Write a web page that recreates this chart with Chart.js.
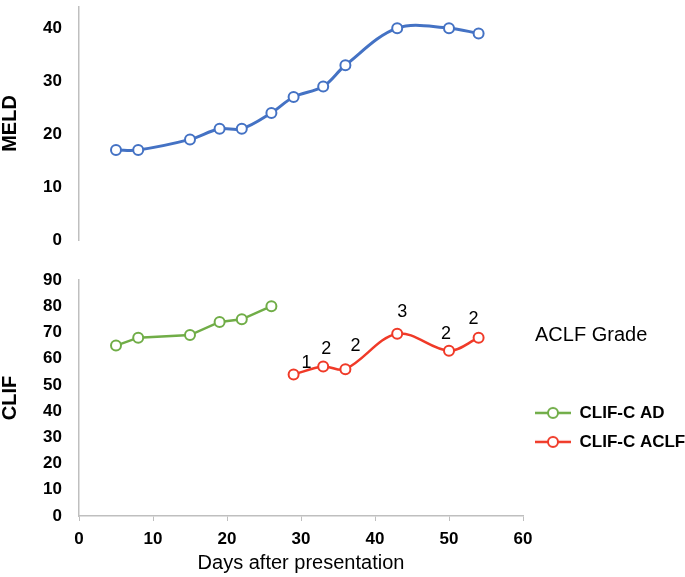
<!DOCTYPE html>
<html>
<head>
<title>MELD and CLIF</title>
<script src="https://cdn.jsdelivr.net/npm/chart.js"></script>
<style>
  body { margin: 0; background: #fff; }
  #wrap { position: relative; width: 685px; height: 577px; }
  #meldBox { position: absolute; left: 0; top: 0; width: 685px; height: 250px; }
  #clifBox { position: absolute; left: 0; top: 270px; width: 685px; height: 307px; }
</style>
</head>
<body>
<div id="wrap">
  <div id="meldBox"><canvas id="meldChart"></canvas></div>
  <div id="clifBox"><canvas id="clifChart"></canvas></div>
</div>
<script>
// days after presentation
var meldDays = [5, 8, 15, 19, 22, 26, 29, 33, 36, 43, 50, 54];
var meldValues = [17, 17, 19, 21, 21, 24, 27, 29, 33, 40, 40, 39];

var adDays = [5, 8, 15, 19, 22, 26];
var adValues = [65, 68, 69, 74, 75, 80];

var aclfDays = [29, 33, 36, 43, 50, 54];
var aclfValues = [54, 57, 56, 69.5, 63, 68];
var aclfGrades = ['1', '2', '2', '3', '2', '2'];

var xTicks = [0, 10, 20, 30, 40, 50, 60];

// label nudges (px) for the grade numbers, as placed in the original
var gradeNudge = [[13, -11], [3, -18], [10, -23], [5, -22], [-3, -17], [-5, -19]];

var BLUE = '#4472c4', GREEN = '#70ad47', RED = '#f03a28', AXIS = '#bfbfbf';
var FONT = "'Liberation Sans', Arial, Helvetica, sans-serif";

function pts(xs, ys) {
  return xs.map(function (x, i) { return {x: x, y: ys[i]}; });
}

function lineIcon(color) {
  var c = document.createElement('canvas');
  c.width = 36; c.height = 14;
  var g = c.getContext('2d');
  g.strokeStyle = color; g.lineWidth = 2.5;
  g.beginPath(); g.moveTo(0, 7); g.lineTo(36, 7); g.stroke();
  g.fillStyle = '#fff'; g.lineWidth = 2;
  g.beginPath(); g.arc(18, 7, 5, 0, Math.PI * 2); g.fill(); g.stroke();
  return c;
}

function xScale(show) {
  var s = {
    type: 'linear', min: 0, max: 60, display: show,
    afterBuildTicks: function (s) { s.ticks = xTicks.map(function (v) { return {value: v}; }); },
    grid: {display: true, drawOnChartArea: false, drawTicks: true, tickLength: 5, color: AXIS},
    border: {display: true, color: AXIS, width: 1.5},
    ticks: {color: '#000', padding: 8, font: {family: FONT, size: 17, weight: 'bold'}},
    title: {display: true, text: 'Days after presentation', color: '#000',
            font: {family: FONT, size: 20}, padding: {top: 0, bottom: 2}}
  };
  if (show) s.afterFit = function (sc) { sc.height = 61; };
  return s;
}

function yScale(max, title) {
  return {
    min: 0, max: max,
    grid: {display: false, drawTicks: false},
    border: {display: true, color: AXIS, width: 1.5},
    ticks: {stepSize: 10, includeBounds: false, padding: 17, color: '#000',
            font: {family: FONT, size: 17, weight: 'bold'}},
    title: {display: true, text: title, color: '#000',
            font: {family: FONT, size: 20, weight: 'bold', lineHeight: 1}, padding: 0},
    afterFit: function (s) { s.width = 79; s.paddingTop = 0; s.paddingBottom = 0; }
  };
}

var gradeLabels = {
  id: 'gradeLabels',
  afterDatasetsDraw: function (chart) {
    var ctx = chart.ctx;
    var meta = chart.getDatasetMeta(1);
    ctx.save();
    ctx.fillStyle = '#000';
    ctx.font = '18px ' + FONT;
    ctx.textAlign = 'center';
    ctx.textBaseline = 'middle';
    meta.data.forEach(function (p, i) {
      ctx.fillText(aclfGrades[i], p.x + gradeNudge[i][0], p.y + gradeNudge[i][1]);
    });
    ctx.font = '20px ' + FONT;
    ctx.textAlign = 'left';
    ctx.fillText('ACLF Grade', 535, 335 - 270);
    ctx.restore();
  }
};

new Chart(document.getElementById('meldChart'), {
  type: 'line',
  data: {
    datasets: [{
      label: 'MELD',
      data: pts(meldDays, meldValues),
      borderColor: BLUE, borderWidth: 3, tension: 0.35,
      pointRadius: 5, pointBorderWidth: 2, pointBackgroundColor: '#fff', pointBorderColor: BLUE
    }]
  },
  options: {
    responsive: true, maintainAspectRatio: false, animation: false,
    layout: {padding: {left: 0, right: 162, top: 0, bottom: 10}},
    plugins: {legend: {display: false}, tooltip: {enabled: false}},
    scales: {x: xScale(false), y: yScale(44, 'MELD')}
  }
});

new Chart(document.getElementById('clifChart'), {
  type: 'line',
  data: {
    datasets: [{
      label: 'CLIF-C AD',
      data: pts(adDays, adValues),
      borderColor: GREEN, borderWidth: 2.5, tension: 0,
      pointRadius: 5, pointBorderWidth: 2, pointBackgroundColor: '#fff', pointBorderColor: GREEN
    }, {
      label: 'CLIF-C ACLF',
      data: pts(aclfDays, aclfValues),
      borderColor: RED, borderWidth: 2.5, tension: 0.35,
      pointRadius: 5, pointBorderWidth: 2, pointBackgroundColor: '#fff', pointBorderColor: RED
    }]
  },
  options: {
    responsive: true, maintainAspectRatio: false, animation: false,
    layout: {padding: {left: 0, right: 0, top: 10, bottom: 0}},
    plugins: {
      tooltip: {enabled: false},
      legend: {
        position: 'right', align: 'start', maxWidth: 162,
        title: {display: true, text: '', font: {size: 12}, padding: {top: 98, bottom: 0}},
        labels: {
          color: '#000', padding: 12, usePointStyle: true, pointStyleWidth: 36, boxHeight: 14,
          font: {family: FONT, size: 17, weight: 'bold'},
          generateLabels: function (chart) {
            return chart.data.datasets.map(function (ds, i) {
              return {text: ds.label, pointStyle: lineIcon(ds.borderColor), datasetIndex: i,
                      fontColor: '#000', lineWidth: 0, strokeStyle: ds.borderColor, fillStyle: '#fff'};
            });
          }
        }
      }
    },
    scales: {x: xScale(true), y: yScale(90, 'CLIF')}
  },
  plugins: [gradeLabels]
});
</script>
</body>
</html>
